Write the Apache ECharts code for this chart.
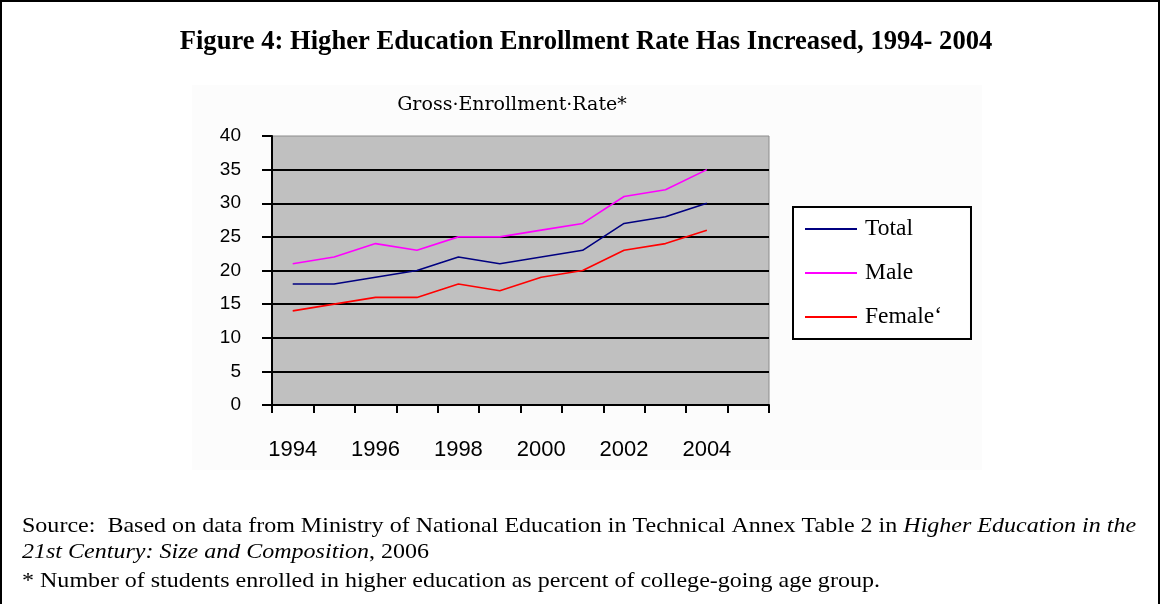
<!DOCTYPE html>
<html>
<head>
<meta charset="utf-8">
<script src="https://cdn.jsdelivr.net/npm/echarts@6/dist/echarts.min.js"></script>
<style>
  html, body { margin: 0; padding: 0; background: #ffffff; }
  #chart { width: 1161px; height: 604px; }
</style>
</head>
<body>
<div id="chart"></div>
<script>
// Gross enrollment rate in higher education, percent
const years = ['1994','1995','1996','1997','1998','1999','2000','2001','2002','2003','2004','2005'];
const totalRate  = [18, 18, 19, 20, 22, 21, 22, 23, 27, 28, 30];
const maleRate   = [21, 22, 24, 23, 25, 25, 26, 27, 31, 32, 35];
const femaleRate = [14, 15, 16, 16, 18, 17, 19, 20, 23, 24, 26];
const yTicks = { min: 0, max: 40, interval: 5 };

const serif = '"Liberation Serif", "Times New Roman", serif';
const slab = '"DejaVu Serif", serif';
const sans = '"Liberation Sans", Arial, sans-serif';

const chart = echarts.init(document.getElementById('chart'), null, { renderer: 'canvas' });

const noteRich = {
  n: { font: '21px ' + serif, fill: '#000' },
  i: { font: 'italic 21px ' + serif, fill: '#000' }
};

chart.setOption({
  backgroundColor: '#ffffff',
  animation: false,
  graphic: [
    { type: 'rect', z: -10, shape: { x: 1, y: 1, width: 1158, height: 640 },
      style: { fill: 'none', stroke: '#000', lineWidth: 2 } },
    { type: 'rect', z: -9, shape: { x: 192, y: 85, width: 790, height: 385 },
      style: { fill: '#fcfcfc', stroke: null } },
    { type: 'text', x: 586, y: 42,
      style: { text: 'Figure 4: Higher Education Enrollment Rate Has Increased, 1994- 2004',
               font: 'bold 26.6px ' + serif, fill: '#000', align: 'center', verticalAlign: 'middle' } },
    { type: 'text', x: 512, y: 105,
      style: { text: 'Gross·Enrollment·Rate*', font: '19px ' + slab, fill: '#000',
               align: 'center', verticalAlign: 'middle' } },
    { type: 'text', x: 22, y: 526, scaleX: 1.144,
      style: { text: '{n|Source:  Based on data from Ministry of National Education in Technical Annex Table 2 in }{i|Higher Education in the}',
               verticalAlign: 'middle', rich: noteRich } },
    { type: 'text', x: 22, y: 552, scaleX: 1.144,
      style: { text: '{i|21st Century: Size and Composition}{n|, 2006}',
               verticalAlign: 'middle', rich: noteRich } },
    { type: 'text', x: 22, y: 581, scaleX: 1.144,
      style: { text: '* Number of students enrolled in higher education as percent of college-going age group.',
               font: '21px ' + serif, fill: '#000', verticalAlign: 'middle' } }
  ],
  grid: {
    left: 272, right: 392, top: 136, bottom: 199,
    show: true, backgroundColor: '#c0c0c0', borderColor: '#8c8c8c', borderWidth: 1
  },
  legend: {
    orient: 'vertical', left: 793, top: 207,
    padding: [10, 29, 10, 12], itemGap: 20,
    borderColor: '#000', borderWidth: 2, backgroundColor: '#fff',
    icon: 'rect', itemWidth: 52, itemHeight: 2,
    textStyle: { fontFamily: serif, fontSize: 23.5, color: '#000', padding: [0, 0, 0, 3] },
    data: ['Total', 'Male', 'Female‘']
  },
  xAxis: {
    type: 'category', data: years, boundaryGap: true,
    axisLine: { lineStyle: { color: '#000', width: 2 } },
    axisTick: { show: true, length: 8, interval: 0, lineStyle: { color: '#000', width: 2 } },
    axisLabel: { interval: 1, margin: 34, fontFamily: sans, fontSize: 22, color: '#000' },
    splitLine: { show: false }
  },
  yAxis: {
    type: 'value', min: yTicks.min, max: yTicks.max, interval: yTicks.interval,
    axisLine: { show: true, lineStyle: { color: '#000', width: 2 } },
    axisTick: { show: true, length: 10, lineStyle: { color: '#000', width: 2 } },
    axisLabel: { margin: 31, fontFamily: sans, fontSize: 19, color: '#000' },
    splitLine: { show: true, showMaxLine: false, lineStyle: { color: '#000', width: 2 } }
  },
  series: [
    { name: 'Total', type: 'line', data: totalRate, symbol: 'none',
      lineStyle: { color: '#000080', width: 1.6 }, itemStyle: { color: '#000080' } },
    { name: 'Male', type: 'line', data: maleRate, symbol: 'none',
      lineStyle: { color: '#ff00ff', width: 1.6 }, itemStyle: { color: '#ff00ff' } },
    { name: 'Female‘', type: 'line', data: femaleRate, symbol: 'none',
      lineStyle: { color: '#ff0000', width: 1.6 }, itemStyle: { color: '#ff0000' } }
  ]
});
</script>
</body>
</html>
